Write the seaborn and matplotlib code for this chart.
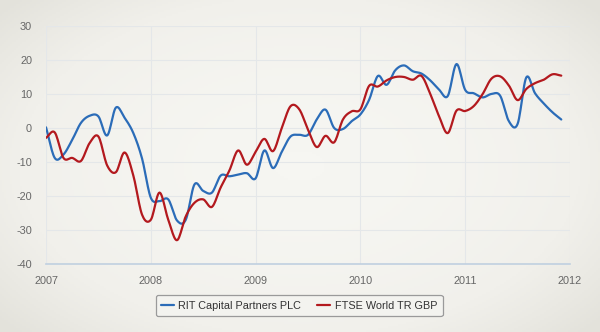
import numpy as np
import pandas as pd
import matplotlib
matplotlib.use("Agg")
import matplotlib.pyplot as plt
from matplotlib.colors import LinearSegmentedColormap
import seaborn as sns

# Monthly cumulative performance (%), Jan 2007 - Dec 2011
rit_capital = [0.2, -8.8, -7.8, -3.5, 1.5, 3.6, 3.4, -2.2, 6.0, 3.0, -1.5, -9.0,
               -20.5, -21.5, -21.0, -27.2, -27.0, -16.6, -18.5, -19.0, -14.0, -14.2, -13.7, -13.3,
               -14.8, -6.6, -11.8, -7.0, -2.5, -2.0, -2.0, 2.5, 5.4, 0.0, -0.3, 2.0,
               4.0, 8.3, 15.3, 12.7, 17.0, 18.4, 16.7, 16.0, 14.0, 11.3, 9.4, 18.8,
               11.2, 10.2, 9.0, 10.0, 9.5, 2.0, 1.2, 14.9, 10.2, 7.2, 4.6, 2.5]
ftse_world = [-2.9, -1.3, -8.8, -8.8, -9.7, -4.4, -2.5, -11.0, -13.0, -7.2, -14.0, -25.5,
              -27.0, -19.0, -27.0, -33.0, -26.0, -22.0, -21.0, -23.2, -17.5, -12.5, -6.6, -10.8,
              -7.0, -3.2, -6.8, 0.0, 6.4, 5.5, -0.5, -5.6, -2.3, -4.2, 2.5, 4.9,
              5.5, 12.4, 12.2, 14.0, 15.0, 15.0, 14.2, 15.3, 10.0, 3.5, -1.5, 5.1,
              5.0, 6.5, 10.0, 14.5, 15.2, 12.5, 8.2, 11.5, 13.2, 14.2, 15.8, 15.4]
series_names = ["RIT Capital Partners PLC", "FTSE World TR GBP"]
series_colors = ["#2b6cb8", "#b3191e"]
year_ticks = [2007, 2008, 2009, 2010, 2011, 2012]
value_ticks = [-40, -30, -20, -10, 0, 10, 20, 30]

months = 2007 + np.arange(len(rit_capital)) / 12.0


def smooth_curve(x, y, steps=12):
    """Catmull-Rom spline through the monthly points."""
    x = np.asarray(x, float)
    y = np.asarray(y, float)
    n = len(y)
    m = np.zeros(n)
    m[1:-1] = (y[2:] - y[:-2]) / 2.0
    m[0] = y[1] - y[0]
    m[-1] = y[-1] - y[-2]
    xs, ys = [], []
    for i in range(n - 1):
        t = np.linspace(0, 1, steps, endpoint=False)
        h00 = 2 * t**3 - 3 * t**2 + 1
        h10 = t**3 - 2 * t**2 + t
        h01 = -2 * t**3 + 3 * t**2
        h11 = t**3 - t**2
        ys.append(h00 * y[i] + h10 * m[i] + h01 * y[i + 1] + h11 * m[i + 1])
        xs.append(x[i] + t * (x[i + 1] - x[i]))
    xs.append([x[-1]])
    ys.append([y[-1]])
    return np.concatenate(xs), np.concatenate(ys)


frames = []
for name, vals in zip(series_names, [rit_capital, ftse_world]):
    sx, sy = smooth_curve(months, vals)
    frames.append(pd.DataFrame({"date": sx, "value": sy, "series": name}))
df = pd.concat(frames, ignore_index=True)

sns.set_theme(style="white")
plt.rcParams["font.family"] = ["Liberation Sans", "DejaVu Sans"]

fig = plt.figure(figsize=(6.0, 3.32), dpi=100, facecolor="#ecebe5")

# paper-like backdrop: lighter centre fading to darker edges
bg = fig.add_axes([0, 0, 1, 1], zorder=-1)
gx, gy = np.meshgrid(np.linspace(-1, 1, 300), np.linspace(-1, 1, 166))
r = np.clip(np.sqrt((gx / 1.05) ** 2 + (gy / 1.15) ** 2), 0, 1.4)
paper = LinearSegmentedColormap.from_list("paper", ["#f6f6f2", "#f1f0eb", "#e3e2db"])
bg.imshow(r ** 2, cmap=paper, aspect="auto", extent=[0, 1, 0, 1], vmin=0, vmax=1.6)
bg.set_axis_off()

ax = fig.add_axes([46 / 600, 1 - 264 / 332, 524 / 600, 238 / 332])
ax.patch.set_alpha(0)

sns.lineplot(data=df, x="date", y="value", hue="series", hue_order=series_names,
             palette=series_colors, linewidth=1.6, ax=ax, sort=False,
             estimator=None, legend=True)

ax.set_xlim(2007, 2012)
ax.set_ylim(-40, 30)
ax.set_xticks(year_ticks)
ax.set_xticklabels([str(y) for y in year_ticks])
ax.set_yticks(value_ticks)
ax.set_yticklabels([str(v) for v in value_ticks])
ax.set_xlabel("")
ax.set_ylabel("")

ax.grid(True, color="#e4e7e9", linewidth=0.8)
ax.set_axisbelow(True)
for side in ["top", "right", "left"]:
    ax.spines[side].set_visible(False)
ax.spines["bottom"].set_color("#c0d0e0")
ax.spines["bottom"].set_linewidth(1.2)

ax.tick_params(axis="x", colors="#c0d0e0", length=5, width=1, direction="out",
               labelcolor="#666666", labelsize=7.8, pad=4)
ax.tick_params(axis="y", length=0, labelcolor="#666666", labelsize=7.8, pad=10)

handles, labels = ax.get_legend_handles_labels()
leg = ax.legend(handles, labels, loc="upper center", bbox_to_anchor=(0.483, -0.108),
                ncol=2, frameon=True, fontsize=7.8, handlelength=1.2,
                handletextpad=0.4, columnspacing=1.5, borderpad=0.5,
                fancybox=True, edgecolor="#9a9a9a", facecolor="#f3f3ef",
                framealpha=1.0)
leg.get_frame().set_linewidth(0.9)
for t in leg.get_texts():
    t.set_color("#333333")

fig.savefig("out.png", dpi=100, facecolor=fig.get_facecolor())
